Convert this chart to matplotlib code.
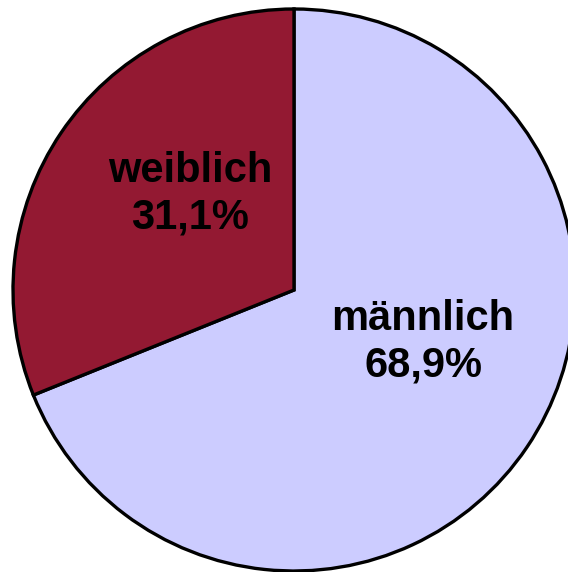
import matplotlib
matplotlib.use("Agg")
from matplotlib import pyplot as plt

labels = ["männlich", "weiblich"]
shares = [68.9, 31.1]
colors = ["#CCCCFF", "#931932"]

# label centres in pixel coordinates (origin bottom-left)
label_pos = [(423, 572 - 342), (190, 572 - 194)]


def main():
    fig = plt.figure(figsize=(5.68, 5.72), dpi=100)
    ax = fig.add_axes([0, 0, 1, 1])

    ax.pie(shares, colors=colors, startangle=90, counterclock=False,
           center=(294, 572 - 290), radius=281, frame=True,
           wedgeprops=dict(edgecolor="black", linewidth=2.4))
    ax.set_xlim(0, 568)
    ax.set_ylim(0, 572)
    ax.set_aspect("equal")
    ax.axis("off")

    for name, val, (x, y) in zip(labels, shares, label_pos):
        txt = f"{name}\n{val:.1f}%".replace(".", ",")
        ax.text(x, y, txt, ha="center", va="center", fontsize=30,
                fontweight="bold", family="Liberation Sans", linespacing=1.22)

    fig.savefig("out.png", dpi=100)


if __name__ == '__main__':
    main()
